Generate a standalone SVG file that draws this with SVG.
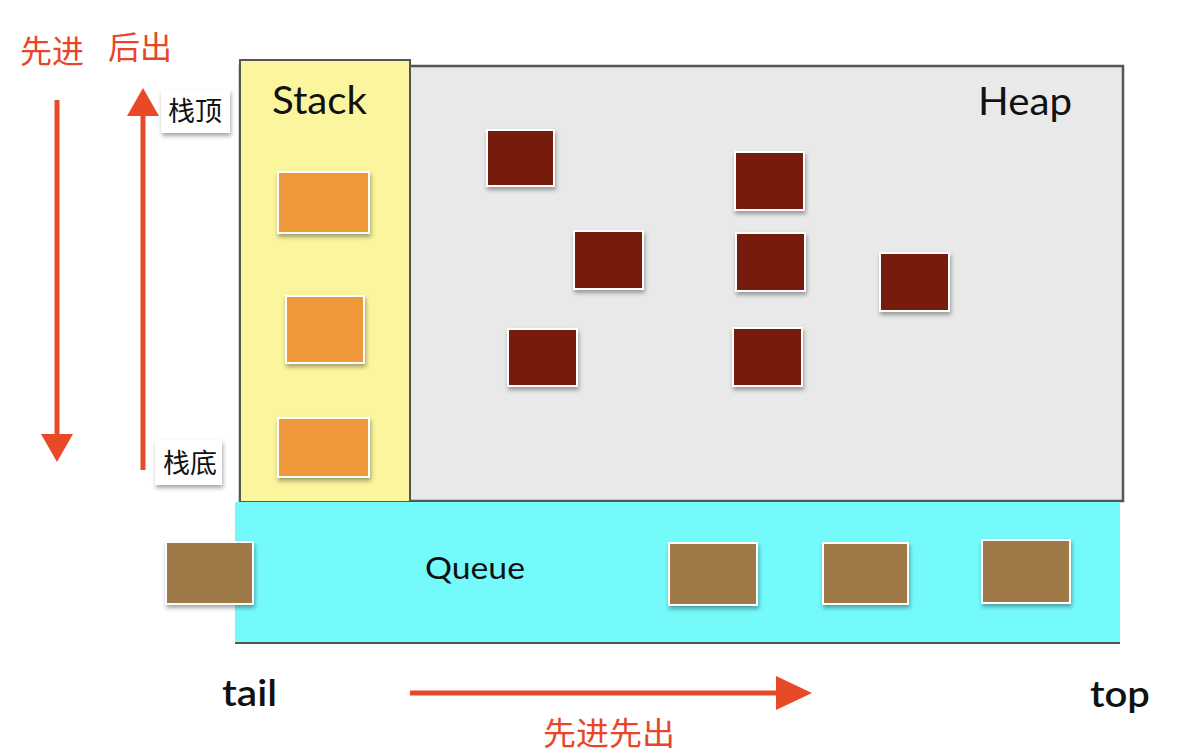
<svg xmlns="http://www.w3.org/2000/svg" width="1198" height="756" viewBox="0 0 1198 756">
<defs>
<filter id="sh" x="-20%" y="-20%" width="150%" height="150%"><feDropShadow dx="1" dy="3" stdDeviation="2" flood-color="#000" flood-opacity="0.35"/></filter>
<style>
.lbl{font-family:"Lato","Open Sans","Liberation Sans",sans-serif;fill:#111}
.cn{font-family:"Noto Sans CJK SC",sans-serif;fill:#e8452a}
.cb{font-family:"Noto Sans CJK SC",sans-serif;fill:#111}
.red{fill:#761c10;stroke:#fff;stroke-width:2;filter:url(#sh)}
.org{fill:#f0993a;stroke:#fff;stroke-width:2;filter:url(#sh)}
.brn{fill:#a0794a;stroke:#fff;stroke-width:2;filter:url(#sh)}
.arr{stroke:#e84a28;stroke-width:5;fill:none}
</style>
</defs>
<rect width="1198" height="756" fill="#fff"/>
<g id="heap">
<rect x="240" y="66" width="883" height="435" fill="#e9e9e9" stroke="#555" stroke-width="2.5"/>
<text class="lbl" x="978" y="115" font-size="38" textLength="94" lengthAdjust="spacingAndGlyphs">Heap</text>
</g>
<g id="stack">
<rect x="240" y="60" width="170" height="442" fill="#fbf59e" stroke="#555" stroke-width="2"/>
<text class="lbl" x="272" y="114" font-size="38" textLength="95" lengthAdjust="spacingAndGlyphs">Stack</text>
</g>
<g id="queue">
<rect x="235" y="502" width="885" height="141" fill="#74fafb"/>
<line x1="235" y1="643" x2="1120" y2="643" stroke="#555" stroke-width="2"/>
<text class="lbl" x="425" y="579" font-size="31" textLength="100" lengthAdjust="spacingAndGlyphs">Queue</text>
</g>
<g id="stack-items">
<rect class="org" x="278" y="172" width="91" height="61"/>
<rect class="org" x="286" y="296" width="78" height="67"/>
<rect class="org" x="278" y="418" width="91" height="59"/>
</g>
<g id="heap-items">
<rect class="red" x="487" y="130" width="67" height="56"/>
<rect class="red" x="735" y="152" width="69" height="58"/>
<rect class="red" x="574" y="231" width="69" height="58"/>
<rect class="red" x="736" y="233" width="69" height="58"/>
<rect class="red" x="880" y="253" width="69" height="58"/>
<rect class="red" x="508" y="329" width="69" height="57"/>
<rect class="red" x="733" y="328" width="69" height="58"/>
</g>
<g id="queue-items">
<rect class="brn" x="166" y="542" width="87" height="62"/>
<rect class="brn" x="669" y="543" width="88" height="62"/>
<rect class="brn" x="823" y="543" width="85" height="61"/>
<rect class="brn" x="982" y="540" width="88" height="63"/>
</g>
<g id="connectors">
<line class="arr" x1="57" y1="100" x2="57" y2="434"/>
<path d="M41,434 L73,434 L57,462 Z" fill="#e84a28"/>
<line class="arr" x1="143" y1="470" x2="143" y2="116"/>
<path d="M127,116 L159,116 L143,88 Z" fill="#e84a28"/>
<line class="arr" x1="410" y1="693" x2="776" y2="693"/>
<path d="M776,676 L776,710 L812,693 Z" fill="#e84a28"/>
</g>
<g id="labels">
<text class="cn" x="20" y="63" font-size="32">先进</text>
<text class="cn" x="108" y="59" font-size="32">后出</text>
<text class="cn" x="543" y="745" font-size="32" textLength="132" lengthAdjust="spacingAndGlyphs">先进先出</text>
<g id="top-label"><rect x="161" y="90" width="69" height="43" fill="#fff" filter="url(#sh)"/><text class="cb" x="168" y="121" font-size="27">栈顶</text></g>
<g id="bottom-label"><rect x="155" y="440" width="67" height="45" fill="#fff" filter="url(#sh)"/><text class="cb" x="163" y="473" font-size="27">栈底</text></g>
<text class="lbl" x="222" y="706" font-size="36" style="font-weight:600" textLength="55" lengthAdjust="spacingAndGlyphs">tail</text>
<text class="lbl" x="1090" y="707" font-size="36" style="font-weight:600" textLength="60" lengthAdjust="spacingAndGlyphs">top</text>
</g>
</svg>
